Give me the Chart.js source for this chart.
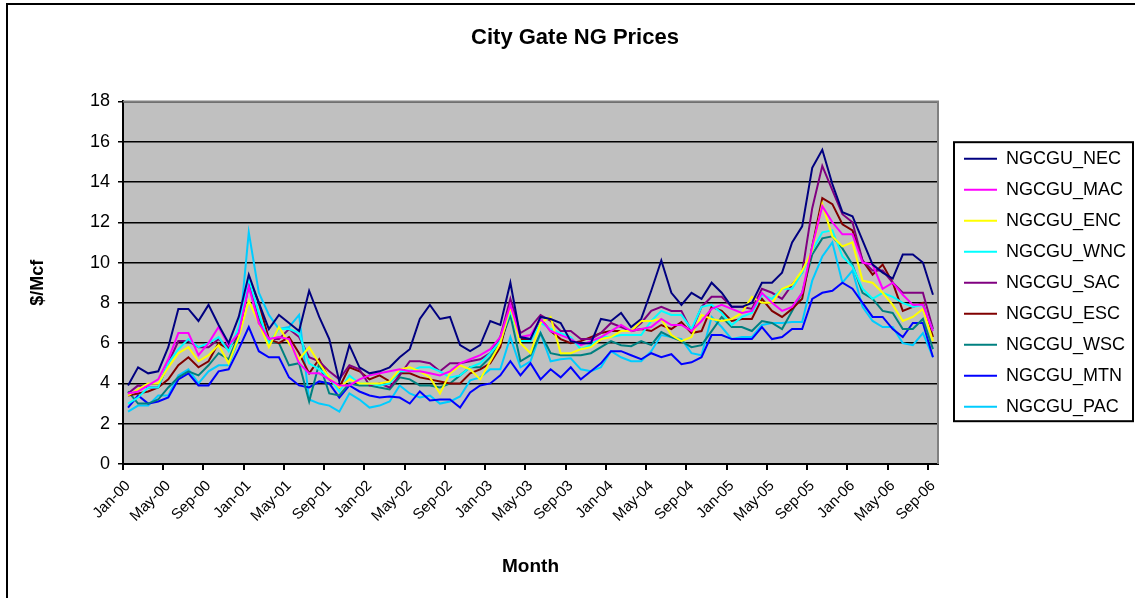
<!DOCTYPE html>
<html><head><meta charset="utf-8">
<script src="https://cdn.jsdelivr.net/npm/chart.js@4/dist/chart.umd.min.js"></script>
<style>html,body{margin:0;padding:0;background:#fff;}canvas{display:block;}</style>
</head><body>
<canvas id="c" width="1135" height="598"></canvas>
<script>
const categories = [
'Jan-00','Feb-00','Mar-00','Apr-00','May-00','Jun-00','Jul-00','Aug-00','Sep-00','Oct-00','Nov-00','Dec-00',
'Jan-01','Feb-01','Mar-01','Apr-01','May-01','Jun-01','Jul-01','Aug-01','Sep-01','Oct-01','Nov-01','Dec-01',
'Jan-02','Feb-02','Mar-02','Apr-02','May-02','Jun-02','Jul-02','Aug-02','Sep-02','Oct-02','Nov-02','Dec-02',
'Jan-03','Feb-03','Mar-03','Apr-03','May-03','Jun-03','Jul-03','Aug-03','Sep-03','Oct-03','Nov-03','Dec-03',
'Jan-04','Feb-04','Mar-04','Apr-04','May-04','Jun-04','Jul-04','Aug-04','Sep-04','Oct-04','Nov-04','Dec-04',
'Jan-05','Feb-05','Mar-05','Apr-05','May-05','Jun-05','Jul-05','Aug-05','Sep-05','Oct-05','Nov-05','Dec-05',
'Jan-06','Feb-06','Mar-06','Apr-06','May-06','Jun-06','Jul-06','Aug-06','Sep-06'];
const tickLabels = ['Jan-00','May-00','Sep-00','Jan-01','May-01','Sep-01','Jan-02','May-02','Sep-02','Jan-03','May-03','Sep-03','Jan-04','May-04','Sep-04','Jan-05','May-05','Sep-05','Jan-06','May-06','Sep-06'];
const yTicks = [0,2,4,6,8,10,12,14,16,18];

const NEC = [3.9,4.8,4.5,4.6,5.8,7.7,7.7,7.1,7.9,6.9,6.0,7.3,
 9.4,8.0,6.7,7.4,7.0,6.6, 8.6,7.3,6.2,4.1,5.9,4.8,
 4.5,4.6,4.8,5.3,5.7,7.2, 7.9,7.2,7.3,5.9,5.6,5.9,
 7.1,6.9,9.0,6.3,6.2,7.3, 7.2,7.0,6.1,6.0,6.0,7.2,
 7.1,7.5,6.8,7.2,8.6,10.1, 8.5,7.9,8.5,8.2,9.0,8.5,
 7.8,7.8,8.0,9.0,9.0,9.5, 11.0,11.8,14.7,15.6,13.9,12.5,
 12.3,11.1,9.9,9.5,9.2,10.4, 10.4,10.0,8.4];
const MAC = [3.5,3.6,3.9,4.2,5.2,6.5,6.5,5.4,6.0,6.8,5.9,6.5,
 8.8,7.0,6.2,6.3,6.2,5.0, 4.5,4.5,4.2,3.9,3.9,4.2,
 4.4,4.5,4.6,4.7,4.6,4.6, 4.5,4.4,4.6,5.0,5.2,5.4,
 5.7,6.3,7.9,6.3,6.4,7.2, 6.6,6.4,6.2,5.9,6.1,6.3,
 6.6,6.9,6.6,6.7,6.8,7.2, 6.9,6.9,6.6,7.1,7.7,7.9,
 7.7,7.5,7.6,8.5,8.0,7.6, 7.8,8.5,10.8,12.8,12.0,11.4,
 11.4,10.0,9.9,8.7,9.0,8.4, 7.9,7.9,6.6];
const ENC = [3.4,3.7,4.0,4.0,4.8,5.5,5.8,5.1,5.4,5.9,5.0,6.3,
 8.1,7.0,5.8,6.8,6.0,5.2, 5.8,5.0,4.3,3.8,4.2,4.0,
 4.0,4.0,4.1,4.7,4.8,4.6, 4.3,3.5,4.5,4.9,4.7,4.2,
 5.1,6.0,7.8,6.0,5.5,7.0, 7.3,5.5,5.5,5.7,5.8,6.2,
 6.3,6.6,6.6,7.1,7.1,7.2, 6.4,6.1,6.3,7.4,7.2,7.1,
 7.2,7.5,8.3,8.0,8.0,8.7, 8.9,9.6,10.6,12.9,11.3,10.8,
 11.0,9.1,9.0,8.5,7.9,7.1, 7.3,7.7,6.1];
const WNC = [3.0,3.3,3.8,3.8,5.0,5.7,6.2,5.8,6.0,6.3,5.6,6.8,
 9.2,7.5,6.0,6.7,6.7,6.5, 5.0,4.7,4.3,3.6,4.4,4.0,
 4.0,3.9,4.0,4.6,4.6,4.8, 4.8,4.6,4.3,4.4,4.8,5.0,
 5.5,6.1,7.6,6.1,6.1,7.0, 6.7,6.5,6.3,5.7,5.9,6.3,
 6.3,6.4,6.4,6.4,7.1,7.6, 7.4,7.4,6.7,7.8,7.9,7.5,
 6.9,7.3,7.5,8.4,8.2,8.7, 8.7,9.5,10.6,11.5,11.6,10.3,
 9.8,8.7,8.2,8.5,8.3,8.0, 7.8,7.9,6.6];
const SAC = [3.5,3.9,3.8,3.8,5.0,6.1,6.1,5.8,5.8,6.2,5.8,6.4,
 9.0,7.0,6.2,6.2,6.7,6.3, 5.3,5.1,4.6,4.2,4.9,4.7,
 3.9,4.0,3.8,4.4,5.1,5.1, 5.0,4.6,5.0,5.0,5.1,5.2,
 5.5,6.3,8.2,6.5,6.8,7.4, 7.1,6.6,6.6,6.2,6.2,6.5,
 7.0,6.8,6.6,7.0,7.6,7.8, 7.6,7.6,6.6,7.8,8.3,8.3,
 7.8,7.8,7.7,8.7,8.5,8.2, 8.9,9.5,12.7,14.8,13.6,12.4,
 12.0,10.1,9.6,9.6,9.0,8.5, 8.5,8.5,6.7];
const ESC = [3.4,3.5,3.6,3.8,4.2,4.9,5.3,4.8,5.1,6.0,5.7,6.5,
 9.2,8.0,6.2,6.0,6.3,5.5, 4.5,5.2,4.2,3.8,4.8,4.6,
 4.2,4.4,4.1,4.5,4.5,4.3, 4.2,4.1,4.0,4.0,4.5,4.7,
 5.0,5.8,7.8,6.2,6.2,7.2, 6.6,6.2,6.0,6.1,6.3,6.5,
 6.6,6.6,6.6,6.7,6.6,6.9, 6.7,7.05,6.5,6.6,7.8,7.6,
 7.1,7.2,7.2,8.2,7.6,7.3, 7.7,8.2,10.8,13.2,12.9,11.9,
 11.6,10.1,9.4,9.9,9.0,7.6, 7.8,8.0,6.3];
const WSC = [3.6,3.0,3.0,3.2,3.8,4.3,4.6,4.4,4.9,5.5,5.2,6.4,
 8.9,7.2,6.1,6.0,4.9,5.0, 3.1,5.0,3.5,3.4,4.0,3.9,
 3.9,3.8,3.7,4.3,4.2,3.9, 3.9,3.8,4.0,4.4,4.8,4.8,
 5.3,6.0,7.4,5.1,5.4,6.5, 5.5,5.4,5.4,5.4,5.5,5.8,
 6.1,5.9,5.85,6.1,5.9,6.55, 6.3,6.1,5.8,5.9,6.6,7.3,
 6.8,6.8,6.6,7.1,7.0,6.7, 7.6,8.5,10.4,11.2,11.3,10.7,
 9.9,8.5,8.2,7.6,7.5,6.7, 6.7,7.2,5.7];
const MTN = [2.8,3.4,3.0,3.1,3.3,4.2,4.5,3.9,3.9,4.6,4.7,5.7,
 6.8,5.6,5.3,5.3,4.3,3.9, 3.8,4.1,4.0,3.3,3.9,3.6,
 3.4,3.3,3.35,3.3,3.0,3.6, 3.15,3.2,3.2,2.8,3.55,3.9,
 4.0,4.4,5.1,4.4,5.0,4.2, 4.7,4.3,4.8,4.2,4.6,5.0,
 5.6,5.6,5.4,5.2,5.5,5.3, 5.45,4.95,5.05,5.3,6.4,6.4,
 6.2,6.2,6.2,6.8,6.2,6.3, 6.7,6.7,8.2,8.5,8.6,9.0,
 8.7,8.0,7.3,7.3,6.7,6.3, 7.0,7.0,5.3];
const PAC = [2.6,2.9,2.9,3.4,3.4,4.4,4.7,4.0,4.6,4.9,4.9,6.2,
 11.5,8.5,7.4,6.7,6.8,7.4, 3.2,3.0,2.9,2.6,3.5,3.2,
 2.8,2.9,3.1,3.9,3.5,3.3, 3.4,3.0,3.1,3.35,4.15,4.3,
 4.7,4.7,6.3,4.8,5.1,6.5, 5.1,5.2,5.25,4.7,4.6,4.8,
 5.6,5.3,5.1,5.1,5.6,6.4, 6.3,6.2,5.5,5.4,7.3,6.8,
 6.2,6.3,6.3,6.9,7.0,7.0, 7.05,7.05,9.1,10.3,11.0,9.0,
 9.6,7.8,7.1,6.8,6.8,6.0, 5.9,6.5,5.3];

const seriesNames = ['NGCGU_NEC','NGCGU_MAC','NGCGU_ENC','NGCGU_WNC','NGCGU_SAC','NGCGU_ESC','NGCGU_WSC','NGCGU_MTN','NGCGU_PAC'];
const seriesValues = [NEC, MAC, ENC, WNC, SAC, ESC, WSC, MTN, PAC];
const seriesColors = ['#000080','#FF00FF','#FFFF00','#00FFFF','#800080','#800000','#008080','#0000FF','#00CCFF'];

const FONT = "'Liberation Sans', Arial, Helvetica, sans-serif";
Chart.defaults.font.family = FONT;
Chart.defaults.color = '#000';

const framePlugin = {
  id: 'frame',
  beforeDraw(chart) {
    const {ctx, chartArea: a} = chart;
    ctx.save();
    ctx.fillStyle = '#fff';
    ctx.fillRect(0, 0, chart.width, chart.height);
    ctx.fillStyle = '#000';
    ctx.fillRect(6, 3, chart.width - 6, 2);
    ctx.fillRect(6, 3, 2, chart.height - 3);
    ctx.fillStyle = '#C0C0C0';
    ctx.fillRect(a.left, a.top, a.right - a.left, a.bottom - a.top);
    ctx.restore();
  },
  afterDraw(chart) {
    const {ctx, chartArea: a} = chart;
    ctx.save();
    ctx.strokeStyle = '#808080';
    ctx.lineWidth = 2;
    ctx.beginPath();
    ctx.moveTo(a.left, a.top);
    ctx.lineTo(a.right, a.top);
    ctx.lineTo(a.right, a.bottom);
    ctx.stroke();
    const lg = chart.legend;
    const hb = lg.legendHitBoxes;
    if (hb && hb.length) {
      const first = hb[0], last = hb[hb.length - 1];
      const x0 = first.left - 10, y0 = first.top - 7.5;
      const x1 = lg.right - 2, y1 = last.top + last.height + 5.5;
      ctx.strokeStyle = '#000';
      ctx.lineWidth = 2;
      ctx.strokeRect(x0, y0, x1 - x0, y1 - y0);
    }
    ctx.restore();
  }
};

new Chart(document.getElementById('c'), {
  type: 'line',
  data: {
    labels: categories,
    datasets: seriesNames.map((n, k) => ({
      label: n,
      data: seriesValues[k],
      borderColor: seriesColors[k],
      backgroundColor: seriesColors[k],
      borderWidth: 2,
      pointRadius: 0,
      pointHoverRadius: 0,
      tension: 0,
      fill: false
    }))
  },
  options: {
    responsive: false,
    animation: false,
    devicePixelRatio: 1,
    layout: { padding: { left: 15, right: 0, top: 0, bottom: 0 } },
    plugins: {
      title: {
        display: true,
        text: 'City Gate NG Prices',
        color: '#000',
        font: { size: 22, weight: 'bold', family: FONT },
        padding: { top: 25, bottom: 50 }
      },
      legend: {
        display: true,
        position: 'right',
        fullSize: false,
        align: 'center',
        maxWidth: 184,
        labels: {
          usePointStyle: true,
          pointStyle: 'line',
          pointStyleWidth: 33,
          padding: 13,
          color: '#000',
          font: { size: 18, family: FONT }
        }
      },
      tooltip: { enabled: false }
    },
    scales: {
      x: {
        type: 'category',
        offset: true,
        grid: {
          offset: true,
          drawOnChartArea: false,
          drawTicks: true,
          tickLength: 6,
          lineWidth: 2,
          color: (c) => (c.index % 4 === 0 ? '#000' : 'rgba(0,0,0,0)')
        },
        border: { display: true, color: '#000', width: 2 },
        ticks: {
          autoSkip: false,
          maxRotation: 45,
          minRotation: 45,
          padding: 7,
          color: '#000',
          font: { size: 15, family: FONT },
          callback: (v, i) => (i % 4 === 0 ? tickLabels[i / 4] : '')
        },
        title: {
          display: true,
          text: 'Month',
          color: '#000',
          font: { size: 19, weight: 'bold', family: FONT },
          padding: { top: 0, bottom: 20 }
        },
        afterFit: (s) => { s.height = 134; }
      },
      y: {
        type: 'linear',
        position: 'left',
        min: yTicks[0],
        max: yTicks[yTicks.length - 1],
        grid: {
          color: '#000',
          lineWidth: 1.5,
          drawTicks: true,
          tickLength: 5
        },
        border: { display: true, color: '#000', width: 2 },
        ticks: {
          stepSize: 2,
          padding: 8,
          color: '#000',
          font: { size: 18, family: FONT }
        },
        title: {
          display: true,
          text: '$/Mcf',
          color: '#000',
          font: { size: 18, weight: 'bold', family: FONT },
          padding: { top: 12, bottom: 0 }
        },
        afterFit: (s) => { s.width = 108; }
      },
      gap: {
        type: 'linear',
        position: 'right',
        display: true,
        grid: { display: false },
        border: { display: false },
        ticks: { display: false },
        afterFit: (s) => { s.width = 13; }
      }
    }
  },
  plugins: [framePlugin]
});
</script>
</body></html>
